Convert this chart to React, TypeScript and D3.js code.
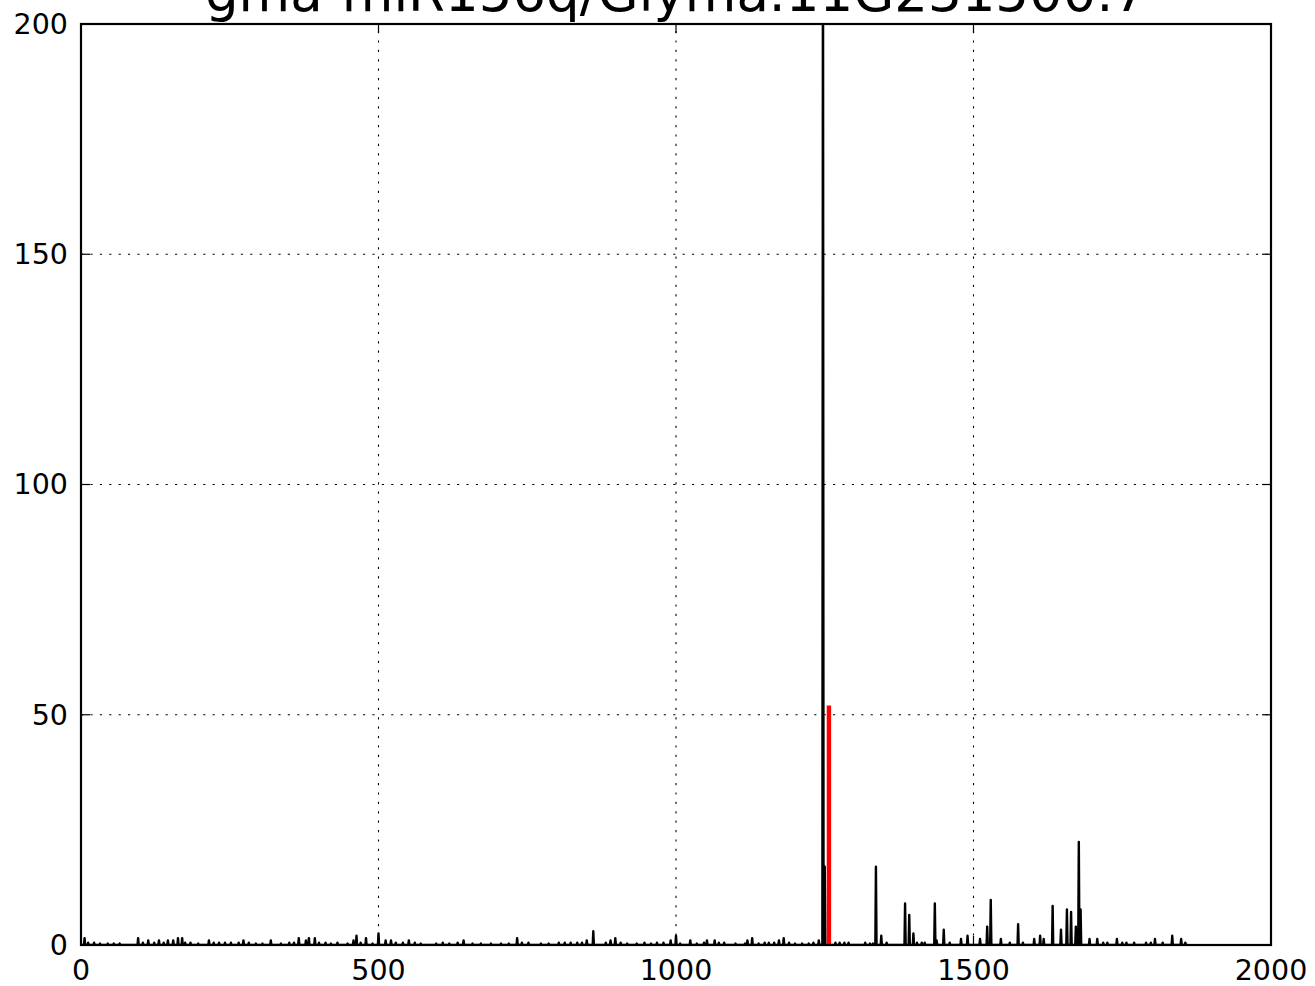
import React, { useEffect, useRef } from "react";
import * as d3 from "d3";

// degradome read counts along the transcript (positions without reads are 0)
const transcriptLength = 1860;
const spikePositions = [
  6, 12, 22, 32, 45, 55, 65, 96, 104, 113, 123, 131, 139, 146, 155, 163, 170, 175, 184, 197,
  215, 223, 232, 242, 252, 265, 273, 282, 294, 305, 319, 336, 350, 358, 366, 378, 383, 393,
  400, 411, 420, 431, 448, 458, 463, 470, 479, 490, 500, 512, 521, 529, 541, 551, 561, 571,
  597, 608, 619, 633, 643, 658, 672, 689, 706, 719, 733, 741, 752, 773, 786, 803, 813, 823,
  834, 842, 850, 861, 882, 890, 898, 907, 918, 934, 947, 958, 968, 979, 991, 1000, 1007,
  1024, 1035, 1047, 1052, 1065, 1072, 1081, 1100, 1116, 1120, 1128, 1139, 1149, 1156, 1165,
  1173, 1181, 1190, 1200, 1212, 1223, 1231, 1240, 1247, 1250, 1268, 1275, 1283, 1290, 1318,
  1326, 1331, 1336, 1345, 1354, 1385, 1392, 1399, 1405, 1413, 1418, 1435, 1438, 1450, 1460,
  1479, 1490, 1511, 1523, 1529, 1546, 1561, 1575, 1583, 1602, 1612, 1618, 1633, 1647, 1657,
  1664, 1672, 1677, 1680, 1695, 1708, 1718, 1725, 1741, 1750, 1757, 1770, 1790, 1798, 1805,
  1818, 1834, 1849, 1856,
];
const spikeCounts = [
  1.5, 0.5, 0.5, 0.3, 0.3, 0.3, 0.3, 1.5, 0.5, 1, 0.5, 1, 0.5, 1, 1, 1.5, 1.5, 0.5, 0.5, 0.3,
  1, 0.5, 0.5, 0.5, 0.5, 0.5, 1, 0.5, 0.3, 0.3, 1, 0.3, 0.5, 0.5, 1.5, 1, 1.5, 1.5,
  0.5, 0.5, 0.3, 0.5, 0.3, 1, 2, 0.5, 1.5, 0.3, 2.5, 1, 1, 0.5, 0.5, 1, 0.5, 0.3,
  0.3, 0.5, 0.3, 0.5, 1, 0.3, 0.3, 0.3, 0.3, 0.3, 1.5, 0.5, 0.5, 0.3, 0.3, 0.5, 0.5, 0.5,
  0.5, 0.5, 1, 3, 0.5, 1, 1.5, 0.5, 0.3, 0.3, 0.5, 0.3, 0.5, 0.5, 1, 2, 0.3,
  1, 0.3, 0.5, 1, 1, 0.5, 0.5, 0.3, 0.3, 1, 1.5, 0.3, 0.5, 0.5, 0.5,
  1, 1.5, 0.5, 0.3, 0.3, 0.3, 0.5, 1, 240, 17, 0.5, 0.5, 0.5, 0.5, 0.5,
  0.3, 0.3, 17, 2, 0.5, 9, 6.5, 2.5, 0.5, 0.5, 0.5, 9, 1, 3.3, 0.5,
  1.3, 2, 1.3, 4, 9.8, 1.3, 0.5, 4.5, 0.5, 1.3, 2, 1.3, 8.5, 3.3, 7.7,
  7.2, 4, 22.4, 7.7, 1.3, 1.3, 0.5, 0.5, 1.3, 0.5, 0.5, 0.5, 0.5, 0.5, 1.3,
  0.5, 2, 1.3, 0.5,
];
// predicted cleavage site
const targetPosition = 1257;
const targetCount = 52;

const xTicks = [0, 500, 1000, 1500, 2000];
const yTicks = [0, 50, 100, 150, 200];
const title = "gma-miR156q/Glyma.11G231500.7";

const App = () => {
  const chartRef = useRef<SVGSVGElement>(null);

  useEffect(() => {
    const svg = d3.select(chartRef.current);
    svg.selectAll("*").remove();

    const margin = { top: 24, right: 44, bottom: 41, left: 81 };
    const width = 1315;
    const height = 986;
    const font = "'DejaVu Sans', sans-serif";

    const x = d3
      .scaleLinear()
      .domain([0, 2000])
      .range([margin.left, width - margin.right]);
    const y = d3
      .scaleLinear()
      .domain([0, 200])
      .range([height - margin.bottom, margin.top]);

    // build per-position counts
    const counts = new Array(transcriptLength + 1).fill(0);
    spikePositions.forEach((p, i) => {
      counts[p] = spikeCounts[i];
    });
    const series = counts.map((c, i) => [i, c] as [number, number]);

    svg
      .append("clipPath")
      .attr("id", "plot-clip")
      .append("rect")
      .attr("x", x(0))
      .attr("y", y(200))
      .attr("width", x(2000) - x(0))
      .attr("height", y(0) - y(200));

    // grid
    const grid = svg.append("g");
    grid
      .selectAll(".gx")
      .data(xTicks)
      .join("line")
      .attr("x1", (d) => x(d))
      .attr("x2", (d) => x(d))
      .attr("y1", y(0))
      .attr("y2", y(200))
      .attr("stroke", "#000")
      .attr("stroke-width", 1.1)
      .attr("stroke-dasharray", "2.2,7.2");
    grid
      .selectAll(".gy")
      .data(yTicks)
      .join("line")
      .attr("y1", (d) => y(d))
      .attr("y2", (d) => y(d))
      .attr("x1", x(0))
      .attr("x2", x(2000))
      .attr("stroke", "#000")
      .attr("stroke-width", 1.1)
      .attr("stroke-dasharray", "2.2,7.2");

    const plot = svg.append("g").attr("clip-path", "url(#plot-clip)");

    const line = d3
      .line<[number, number]>()
      .x((d) => x(d[0]))
      .y((d) => y(d[1]));

    plot
      .append("path")
      .datum(series)
      .attr("d", line)
      .attr("fill", "none")
      .attr("stroke", "#000")
      .attr("stroke-width", 2.4)
      .attr("stroke-linejoin", "round");

    plot
      .append("path")
      .datum([
        [targetPosition, 0],
        [targetPosition, targetCount],
      ] as [number, number][])
      .attr("d", line)
      .attr("fill", "none")
      .attr("stroke", "#ff0000")
      .attr("stroke-width", 4.4);

    // frame
    svg
      .append("rect")
      .attr("x", x(0))
      .attr("y", y(200))
      .attr("width", x(2000) - x(0))
      .attr("height", y(0) - y(200))
      .attr("fill", "none")
      .attr("stroke", "#000")
      .attr("stroke-width", 2.2);

    // inward ticks on all four sides
    const tickLen = 9;
    const ticks = svg.append("g").attr("stroke", "#000").attr("stroke-width", 1.2);
    xTicks.forEach((t) => {
      ticks.append("line").attr("x1", x(t)).attr("x2", x(t)).attr("y1", y(0)).attr("y2", y(0) - tickLen);
      ticks.append("line").attr("x1", x(t)).attr("x2", x(t)).attr("y1", y(200)).attr("y2", y(200) + tickLen);
    });
    yTicks.forEach((t) => {
      ticks.append("line").attr("y1", y(t)).attr("y2", y(t)).attr("x1", x(0)).attr("x2", x(0) + tickLen);
      ticks.append("line").attr("y1", y(t)).attr("y2", y(t)).attr("x1", x(2000)).attr("x2", x(2000) - tickLen);
    });

    // tick labels
    svg
      .append("g")
      .selectAll("text")
      .data(xTicks)
      .join("text")
      .attr("x", (d) => x(d))
      .attr("y", y(0) + 35)
      .attr("text-anchor", "middle")
      .attr("font-family", font)
      .attr("font-size", 28.5)
      .attr("fill", "#000")
      .text((d) => d);

    svg
      .append("g")
      .selectAll("text")
      .data(yTicks)
      .join("text")
      .attr("x", x(0) - 13)
      .attr("y", (d) => y(d))
      .attr("dy", "0.35em")
      .attr("text-anchor", "end")
      .attr("font-family", font)
      .attr("font-size", 28.5)
      .attr("fill", "#000")
      .text((d) => d);

    svg
      .append("text")
      .attr("x", (x(0) + x(2000)) / 2)
      .attr("y", 11)
      .attr("text-anchor", "middle")
      .attr("font-family", font)
      .attr("font-size", 53)
      .attr("fill", "#000")
      .text(title);
  }, []);

  return (
    <svg
      ref={chartRef}
      width={1315}
      height={986}
      viewBox="0 0 1315 986"
      style={{ position: "absolute", left: 0, top: 0, background: "#fff" }}
    />
  );
};

export default App;
